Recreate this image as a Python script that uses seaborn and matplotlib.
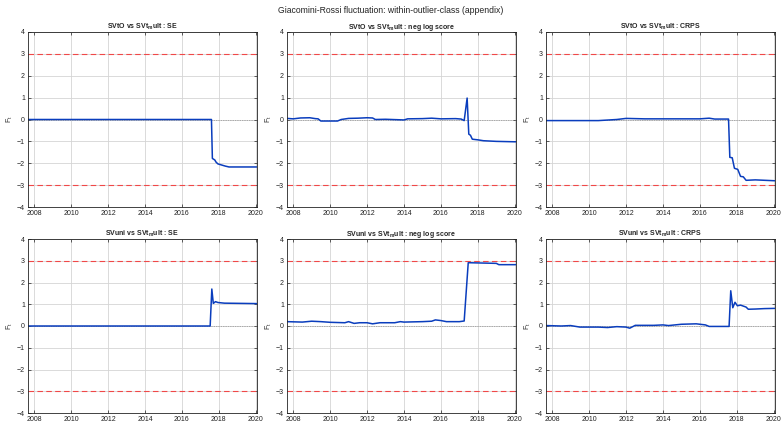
import numpy as np
import pandas as pd
import matplotlib
matplotlib.use("Agg")
import matplotlib.pyplot as plt
import seaborn as sns

suptitle = "Giacomini-Rossi fluctuation: within-outlier-class (appendix)"
titles = [
    r"SVtO vs SVt$_\mathregular{m}$ult : SE",
    r"SVtO vs SVt$_\mathregular{m}$ult : neg log score",
    r"SVtO vs SVt$_\mathregular{m}$ult : CRPS",
    r"SVuni vs SVt$_\mathregular{m}$ult : SE",
    r"SVuni vs SVt$_\mathregular{m}$ult : neg log score",
    r"SVuni vs SVt$_\mathregular{m}$ult : CRPS",
]

p1_x = [2007.67, 2017.60, 2017.65, 2017.78, 2017.85, 2017.95, 2018.15, 2018.35, 2018.55, 2020.05]
p1_y = [0.0, 0.0, -1.78, -1.85, -1.95, -2.03, -2.08, -2.13, -2.17, -2.17]

p2_x = [2007.67, 2008.0, 2008.4, 2008.9, 2009.2, 2009.35, 2009.5, 2010.4, 2010.6, 2011.0,
        2011.5, 2012.0, 2012.3, 2012.45, 2013.0, 2014.0, 2014.2, 2015.0, 2015.5, 2016.0,
        2016.8, 2017.1, 2017.26, 2017.42, 2017.51, 2017.6, 2017.7, 2018.0, 2018.3, 2019.0, 2020.05]
p2_y = [0.05, 0.03, 0.07, 0.08, 0.04, 0.03, -0.07, -0.07, 0.0, 0.05,
        0.06, 0.08, 0.07, 0.0, 0.01, -0.02, 0.03, 0.04, 0.06, 0.03,
        0.04, 0.02, -0.05, 0.98, -0.67, -0.72, -0.90, -0.93, -0.97, -1.0, -1.02]

p3_x = [2007.67, 2009.0, 2010.5, 2011.5, 2012.0, 2013.0, 2014.0, 2016.0, 2016.5, 2016.8,
        2017.55, 2017.62, 2017.75, 2017.87, 2018.05, 2018.2, 2018.35, 2018.5, 2019.0, 2020.05]
p3_y = [-0.05, -0.05, -0.05, 0.0, 0.05, 0.03, 0.03, 0.03, 0.06, 0.02,
        0.02, -1.73, -1.75, -2.23, -2.28, -2.6, -2.62, -2.78, -2.76, -2.8]

p4_x = [2007.67, 2017.53, 2017.62, 2017.70, 2017.82, 2017.95, 2018.3, 2020.05]
p4_y = [0.0, 0.0, 1.70, 1.04, 1.12, 1.08, 1.05, 1.03]

p5_x = [2007.67, 2008.5, 2009.0, 2009.5, 2010.0, 2010.8, 2011.0, 2011.3, 2011.6, 2012.0,
        2012.3, 2012.7, 2013.5, 2013.8, 2014.0, 2015.0, 2015.5, 2015.7, 2016.0, 2016.3,
        2017.0, 2017.26, 2017.48, 2019.0, 2019.14, 2020.05]
p5_y = [0.2, 0.18, 0.22, 0.2, 0.17, 0.15, 0.2, 0.12, 0.15, 0.15,
        0.1, 0.15, 0.15, 0.2, 0.18, 0.2, 0.22, 0.28, 0.25, 0.2,
        0.2, 0.23, 2.91, 2.88, 2.82, 2.82]

p6_x = [2007.67, 2008.5, 2009.0, 2009.5, 2010.5, 2011.0, 2011.5, 2012.0, 2012.2, 2012.5,
        2013.5, 2014.0, 2014.3, 2015.0, 2015.8, 2016.3, 2016.5, 2017.58, 2017.67, 2017.78,
        2017.9, 2018.03, 2018.2, 2018.5, 2018.62, 2019.0, 2019.5, 2020.05]
p6_y = [0.02, 0.0, 0.02, -0.05, -0.05, -0.07, -0.03, -0.05, -0.1, 0.03,
        0.03, 0.05, 0.02, 0.08, 0.1, 0.05, -0.02, -0.02, 1.62, 0.84,
        1.09, 0.93, 0.96, 0.87, 0.77, 0.78, 0.8, 0.81]

xticks = [2008, 2010, 2012, 2014, 2016, 2018, 2020]
yticks = [-4, -3, -2, -1, 0, 1, 2, 3, 4]
crit = 3.0

series = [(p1_x, p1_y), (p2_x, p2_y), (p3_x, p3_y), (p4_x, p4_y), (p5_x, p5_y), (p6_x, p6_y)]

sns.set_style("ticks")
plt.rcParams['font.family'] = ['Liberation Sans', 'DejaVu Sans']
plt.rcParams['mathtext.fontset'] = 'custom'
plt.rcParams['mathtext.rm'] = 'Liberation Sans'
plt.rcParams['mathtext.it'] = 'Liberation Sans:italic'
plt.rcParams['mathtext.bf'] = 'Liberation Sans:bold'

fig = plt.figure(figsize=(7.82, 4.24), dpi=100)
W, H = 782.0, 424.0
lefts = [27.7, 286.7, 545.7]
width = 229.0
rows = [(32.0, 207.0), (239.0, 413.0)]

for i, (xs, ys) in enumerate(series):
    r, c = divmod(i, 3)
    top, bot = rows[r]
    ax = fig.add_axes([lefts[c] / W, 1 - bot / H, width / W, (bot - top) / H])
    df = pd.DataFrame({"date": xs, "F": ys})
    ax.grid(True, color="#d4d4d4", linewidth=0.6)
    ax.set_axisbelow(True)
    ax.axhline(crit, color="#f04848", linestyle=(0, (5, 3)), linewidth=0.8)
    ax.axhline(-crit, color="#f04848", linestyle=(0, (5, 3)), linewidth=0.8)
    ax.axhline(0, color="#777777", linestyle=(0, (1, 1.5)), linewidth=0.5)
    sns.lineplot(data=df, x="date", y="F", ax=ax, color="#0a3dbd", linewidth=1.1,
                 estimator=None, sort=False)
    ax.set_xlim(2007.65, 2020.05)
    ax.set_ylim(-4, 4)
    ax.set_xticks(xticks)
    ax.set_yticks(yticks)
    ax.tick_params(axis="both", labelsize=5, direction="in", length=2.5, width=0.5,
                   top=True, right=True, pad=2, colors="#222222")
    for s in ax.spines.values():
        s.set_linewidth(0.6)
        s.set_color("#222222")
    ax.set_xlabel("")
    ax.set_ylabel(r"F$_\mathregular{t}$", fontsize=5, labelpad=1.5)
    ax.set_title(titles[i], fontsize=5, fontweight="bold", pad=2)

fig.text(0.5, 1 - 10.5 / H, suptitle, ha="center", va="center", fontsize=6.2, color="#222222")
fig.savefig("out.png", dpi=100)
